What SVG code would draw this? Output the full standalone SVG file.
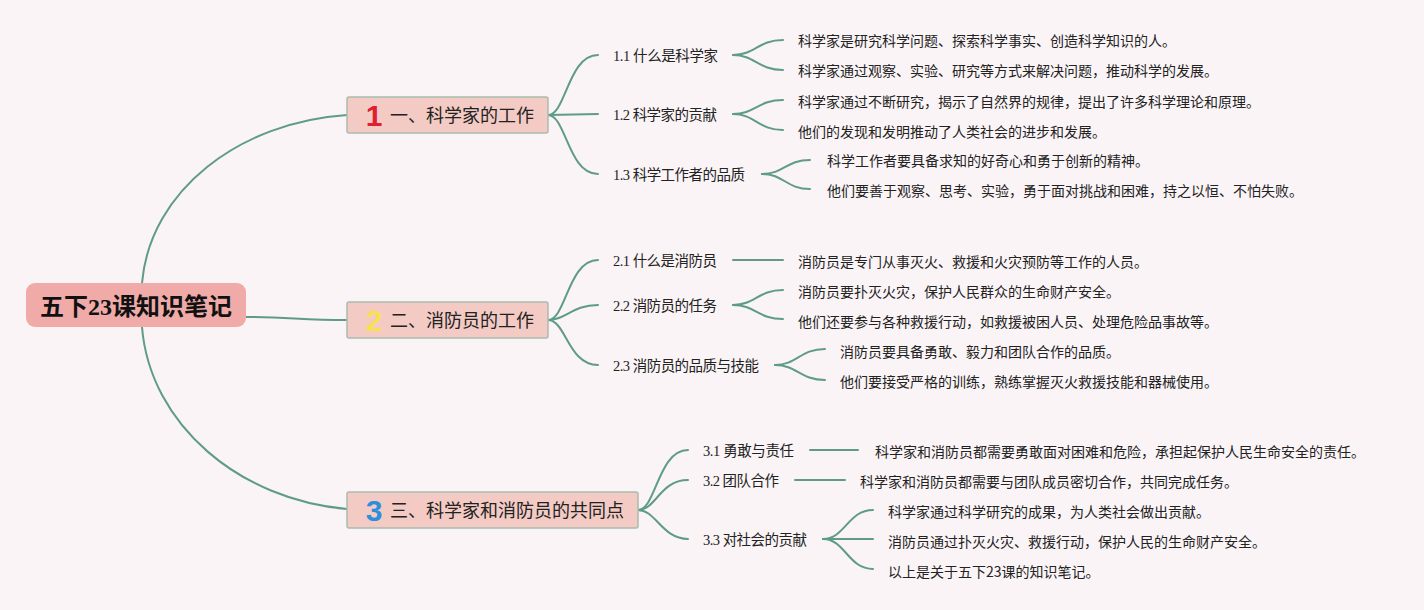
<svg xmlns="http://www.w3.org/2000/svg" width="1424" height="610" viewBox="0 0 1424 610">
<style>
.bg{fill:#faf4f6}
.con{fill:none;stroke:#5e9c86;stroke-width:2;stroke-linecap:round}
.root{fill:#f0aaa8}
.root-t{font-family:"Liberation Serif","Noto Sans CJK SC",serif;font-size:24px;font-weight:bold;fill:#111}
.br{fill:#f3cbc4;stroke:#a9bcae;stroke-width:1.5}
.br-t{font-family:"Noto Sans CJK SC",sans-serif;font-size:18px;fill:#222}
.num{font-family:"Liberation Sans",sans-serif;font-size:30px;font-weight:900;text-anchor:middle}
.sub{font-family:"Liberation Serif","Noto Sans CJK SC",serif;font-size:14.5px;fill:#222}
.leaf{font-family:"Noto Sans CJK SC",sans-serif;font-size:14px;fill:#222}
</style>
<rect class="bg" x="0" y="0" width="1424" height="610"/>
<g id="connectors">
<path class="con" d="M142,283 C150,190 240,122 347,115"/>
<path class="con" d="M246,317 C290,317 300,320 347,320"/>
<path class="con" d="M142,327 C150,425 240,500 347,509"/>
<path class="con" d="M548,115 C566,115 568,55 598,55"/>
<path class="con" d="M548,115 L598,114"/>
<path class="con" d="M548,115 C566,115 568,174 598,174"/>
<path class="con" d="M548,320 C566,320 568,260 598,260"/>
<path class="con" d="M548,320 C566,320 572,305 598,305"/>
<path class="con" d="M548,320 C566,320 568,365 598,365"/>
<path class="con" d="M638,510 C656,510 658,450 688,450"/>
<path class="con" d="M638,510 C656,510 660,480 688,480"/>
<path class="con" d="M638,510 C656,510 662,539 688,539"/>
<path class="con" d="M733,55 C755,55 758,40 783,40"/>
<path class="con" d="M733,55 C755,55 758,70 783,70"/>
<path class="con" d="M733,114 C755,114 758,100 783,100"/>
<path class="con" d="M733,114 C755,114 758,130 783,130"/>
<path class="con" d="M762,174 C784,174 786,160 810,160"/>
<path class="con" d="M762,174 C784,174 786,189 810,189"/>
<path class="con" d="M733,260 L783,260"/>
<path class="con" d="M733,305 C755,305 758,290 783,290"/>
<path class="con" d="M733,305 C755,305 758,319 783,319"/>
<path class="con" d="M775,365 C797,365 800,349 825,349"/>
<path class="con" d="M775,365 C797,365 800,380 825,380"/>
<path class="con" d="M810,450 L858,450"/>
<path class="con" d="M795,480 L845,480"/>
<path class="con" d="M823,539 C845,539 848,510 873,510"/>
<path class="con" d="M823,539 L873,539"/>
<path class="con" d="M823,539 C845,539 848,569 873,569"/>
</g>
<g id="root">
<rect class="root" x="26" y="283" width="220" height="44" rx="9"/>
<text class="root-t" x="136" y="314.5" text-anchor="middle">五下23课知识笔记</text>
</g>
<g id="b1">
<rect class="br" x="347" y="97" width="201" height="36" rx="2"/>
<text class="num" x="374" y="126" fill="#e0202e">1</text>
<text class="br-t" x="390" y="121.5">一、科学家的工作</text>
</g>
<g id="b2">
<rect class="br" x="347" y="302" width="201" height="36" rx="2"/>
<text class="num" x="374" y="331" fill="#f7e150">2</text>
<text class="br-t" x="390" y="326.5">二、消防员的工作</text>
</g>
<g id="b3">
<rect class="br" x="347" y="492" width="291" height="36" rx="2"/>
<text class="num" x="374" y="521" fill="#2d8fdc">3</text>
<text class="br-t" x="390" y="516.5">三、科学家和消防员的共同点</text>
</g>
<g id="s11"><text class="sub" x="613" y="60.5" textLength="105" lengthAdjust="spacing">1.1 什么是科学家</text></g>
<g id="s12"><text class="sub" x="613" y="120" textLength="104" lengthAdjust="spacing">1.2 科学家的贡献</text></g>
<g id="s13"><text class="sub" x="613" y="180" textLength="132" lengthAdjust="spacing">1.3 科学工作者的品质</text></g>
<g id="s21"><text class="sub" x="613" y="265.5" textLength="104" lengthAdjust="spacing">2.1 什么是消防员</text></g>
<g id="s22"><text class="sub" x="613" y="310.5" textLength="104" lengthAdjust="spacing">2.2 消防员的任务</text></g>
<g id="s23"><text class="sub" x="613" y="370.5" textLength="146" lengthAdjust="spacing">2.3 消防员的品质与技能</text></g>
<g id="s31"><text class="sub" x="703" y="455.5" textLength="91" lengthAdjust="spacing">3.1 勇敢与责任</text></g>
<g id="s32"><text class="sub" x="703" y="485.5" textLength="76" lengthAdjust="spacing">3.2 团队合作</text></g>
<g id="s33"><text class="sub" x="703" y="545" textLength="104" lengthAdjust="spacing">3.3 对社会的贡献</text></g>
<g id="l111"><text class="leaf" x="798" y="46">科学家是研究科学问题、探索科学事实、创造科学知识的人。</text></g>
<g id="l112"><text class="leaf" x="798" y="75.5">科学家通过观察、实验、研究等方式来解决问题，推动科学的发展。</text></g>
<g id="l121"><text class="leaf" x="798" y="106.5">科学家通过不断研究，揭示了自然界的规律，提出了许多科学理论和原理。</text></g>
<g id="l122"><text class="leaf" x="798" y="136.5">他们的发现和发明推动了人类社会的进步和发展。</text></g>
<g id="l131"><text class="leaf" x="827" y="165.5">科学工作者要具备求知的好奇心和勇于创新的精神。</text></g>
<g id="l132"><text class="leaf" x="827" y="195.5">他们要善于观察、思考、实验，勇于面对挑战和困难，持之以恒、不怕失败。</text></g>
<g id="l211"><text class="leaf" x="798" y="266.5">消防员是专门从事灭火、救援和火灾预防等工作的人员。</text></g>
<g id="l221"><text class="leaf" x="798" y="296.5">消防员要扑灭火灾，保护人民群众的生命财产安全。</text></g>
<g id="l222"><text class="leaf" x="798" y="326.5">他们还要参与各种救援行动，如救援被困人员、处理危险品事故等。</text></g>
<g id="l231"><text class="leaf" x="840" y="356.5">消防员要具备勇敢、毅力和团队合作的品质。</text></g>
<g id="l232"><text class="leaf" x="840" y="386.5">他们要接受严格的训练，熟练掌握灭火救援技能和器械使用。</text></g>
<g id="l311"><text class="leaf" x="875" y="456.5">科学家和消防员都需要勇敢面对困难和危险，承担起保护人民生命安全的责任。</text></g>
<g id="l321"><text class="leaf" x="860" y="486.5">科学家和消防员都需要与团队成员密切合作，共同完成任务。</text></g>
<g id="l331"><text class="leaf" x="888" y="516.5">科学家通过科学研究的成果，为人类社会做出贡献。</text></g>
<g id="l332"><text class="leaf" x="888" y="546.5">消防员通过扑灭火灾、救援行动，保护人民的生命财产安全。</text></g>
<g id="l333"><text class="leaf" x="888" y="576.5">以上是关于五下23课的知识笔记。</text></g>
</svg>
